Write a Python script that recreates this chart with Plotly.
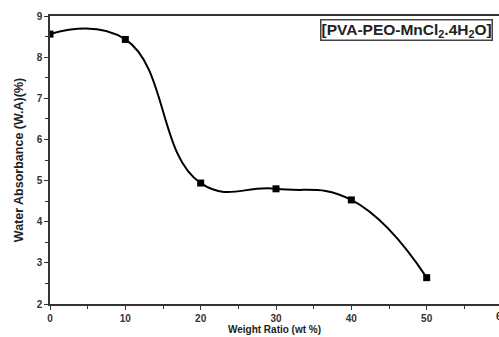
import plotly.graph_objects as go

weight_ratio = [0, 10, 20, 30, 40, 50]
water_absorbance = [8.56, 8.43, 4.94, 4.80, 4.53, 2.64]
x_tick_values = [0, 10, 20, 30, 40, 50]
y_tick_values = [2, 3, 4, 5, 6, 7, 8, 9]
x_max = 59.6
legend_label = "[PVA-PEO-MnCl<sub>2</sub>.4H<sub>2</sub>O]"

fig = go.Figure()
fig.add_trace(go.Scatter(
    x=weight_ratio, y=water_absorbance, mode="lines+markers",
    line=dict(color="black", width=2, shape="spline", smoothing=1.3),
    marker=dict(symbol="square", size=7, color="black"),
    cliponaxis=True, showlegend=False))

axis_font = dict(family="Liberation Sans, Arial", size=10, color="#333")
fig.update_layout(
    width=499, height=337,
    margin=dict(l=50, r=0, t=16, b=33),
    plot_bgcolor="white", paper_bgcolor="white",
    xaxis=dict(range=[0, x_max], tickvals=x_tick_values,
               ticktext=["<b>%d</b>" % v for v in x_tick_values],
               showgrid=False, zeroline=False, showline=True, linecolor="#333", linewidth=1.5,
               mirror=True, ticks="outside", ticklen=4, tickcolor="#333", automargin=False,
               minor=dict(dtick=5, ticks="outside", ticklen=3, tickcolor="#333"),
               tickfont=axis_font,
               title=dict(text="<b>Weight Ratio (wt %)</b>", standoff=2,
                          font=dict(family="Liberation Sans, Arial", size=10, color="#222"))),
    yaxis=dict(range=[2, 9], tickvals=y_tick_values,
               ticktext=["<b>%d</b>" % v for v in y_tick_values],
               showgrid=False, zeroline=False, showline=True, linecolor="#333", linewidth=1.5,
               ticks="outside", ticklen=4, tickcolor="#333", automargin=False,
               minor=dict(dtick=0.5, ticks="outside", ticklen=3, tickcolor="#333"),
               tickfont=axis_font,
               title=dict(text="<b>Water Absorbance (W.A)(%)</b>", standoff=10,
                          font=dict(family="Liberation Sans Narrow, Arial Narrow, Liberation Sans", size=12.5, color="#222"))),
)
# tick label "60" just beyond the visible range (cut off by the page edge, as in the reference)
fig.add_annotation(xref="paper", yref="paper", x=60 / x_max, y=0, xanchor="center", yanchor="top",
                   yshift=-5, text="<b>60</b>", showarrow=False, font=axis_font)
fig.add_annotation(xref="paper", yref="paper", x=0.987, y=0.99, xanchor="right", yanchor="top",
                   text="<b>" + legend_label + "</b>", showarrow=False,
                   font=dict(family="Liberation Sans, Arial", size=15.5, color="#222"),
                   bordercolor="#444", borderwidth=1.5, borderpad=0, bgcolor="white")
fig.write_html("out.html", config={"displayModeBar": False})

with open("out.html", encoding="utf-8") as f:
    html = f.read()
html = html.replace("<body>", '<body style="margin:0;overflow:hidden">', 1)
with open("out.html", "w", encoding="utf-8") as f:
    f.write(html)
